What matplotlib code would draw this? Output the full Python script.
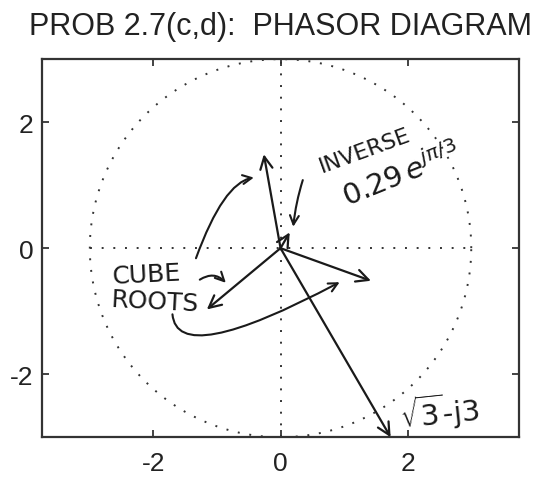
import numpy as np
import matplotlib
matplotlib.use("Agg")
import matplotlib.pyplot as plt

# phasors: z = sqrt(3) - j3, its cube roots and its inverse
z = np.sqrt(3) - 3j
cube_roots = [abs(z) ** (1 / 3) * np.exp(1j * (np.angle(z) + 2 * np.pi * k) / 3) for k in range(3)]
inverse = 1 / z
circle_radius = 3.0

x_ticks = [-2, 0, 2]
y_ticks = [-2, 0, 2]

plt.rcParams['font.family'] = ['Liberation Sans', 'DejaVu Sans']
plt.rcParams['axes.unicode_minus'] = False

fig = plt.figure(figsize=(5.40, 4.81), dpi=100)
ax = fig.add_axes([0.078, 0.089, 0.883, 0.786])

# dotted reference circle and axes
th = np.linspace(0, 2 * np.pi, 200)
dot = (0, (1, 5))
ax.plot(circle_radius * np.cos(th), circle_radius * np.sin(th), color='#333333',
        lw=1.4, linestyle=dot)
ax.plot([-circle_radius, circle_radius], [0, 0], color='#333333', lw=1.4, linestyle=dot)
ax.plot([0, 0], [-circle_radius, circle_radius], color='#333333', lw=1.4, linestyle=dot)

arrow = dict(arrowstyle='->', lw=1.6, color='#1a1a1a', mutation_scale=22, shrinkA=0, shrinkB=0)
for v in [z, inverse] + cube_roots:
    ax.annotate("", xy=(v.real, v.imag), xytext=(0, 0), arrowprops=arrow)

# hand written notes
hand = dict(color='#1a1a1a', family=['DejaVu Sans'])
ax.text(1.32, 1.56, "INVERSE", fontsize=16, rotation=20, ha='center', va='center', **hand)
ax.text(1.9, 1.18, r"0.29$\,e^{j\pi/3}$", fontsize=21, rotation=22, ha='center', va='center', **hand)
ax.text(-2.1, -0.42, "CUBE", fontsize=18, rotation=3, ha='center', va='center', **hand)
ax.text(-1.98, -0.84, "ROOTS", fontsize=18, rotation=-3, ha='center', va='center', **hand)
ax.text(2.5, -2.58, r"$\sqrt{3}$-j3", fontsize=21, rotation=6, ha='center', va='center', **hand)

note = dict(arrowstyle='->', lw=1.5, color='#1a1a1a', mutation_scale=16, shrinkA=0, shrinkB=0)
ax.annotate("", xy=(-0.42, 1.12), xytext=(-1.33, -0.16),
            arrowprops=dict(note, connectionstyle="angle3,angleA=70,angleB=10"))
ax.annotate("", xy=(-0.86, -0.55), xytext=(-1.27, -0.5),
            arrowprops=dict(note, connectionstyle="arc3,rad=-0.4"))
ax.annotate("", xy=(0.93, -0.54), xytext=(-1.7, -1.05),
            arrowprops=dict(note, connectionstyle="angle3,angleA=-85,angleB=28"))
ax.annotate("", xy=(0.2, 0.34), xytext=(0.35, 1.08),
            arrowprops=dict(note, connectionstyle="arc3,rad=0.05"))

ax.set_xlim(-3.75, 3.75)
ax.set_ylim(-3, 3)
ax.set_xticks(x_ticks)
ax.set_yticks(y_ticks)
ax.tick_params(direction='in', length=5, width=1.2, top=True, right=True,
               labelsize=19, colors='#222222')
ax.tick_params(axis='x', pad=10)
ax.tick_params(axis='y', pad=6)
for s in ax.spines.values():
    s.set_linewidth(1.6)
    s.set_color('#333333')

fig.text(0.52, 0.927, "PROB 2.7(c,d):  PHASOR DIAGRAM", fontsize=22,
         ha='center', va='baseline', color='#222222')

fig.savefig("out.png", dpi=100)
